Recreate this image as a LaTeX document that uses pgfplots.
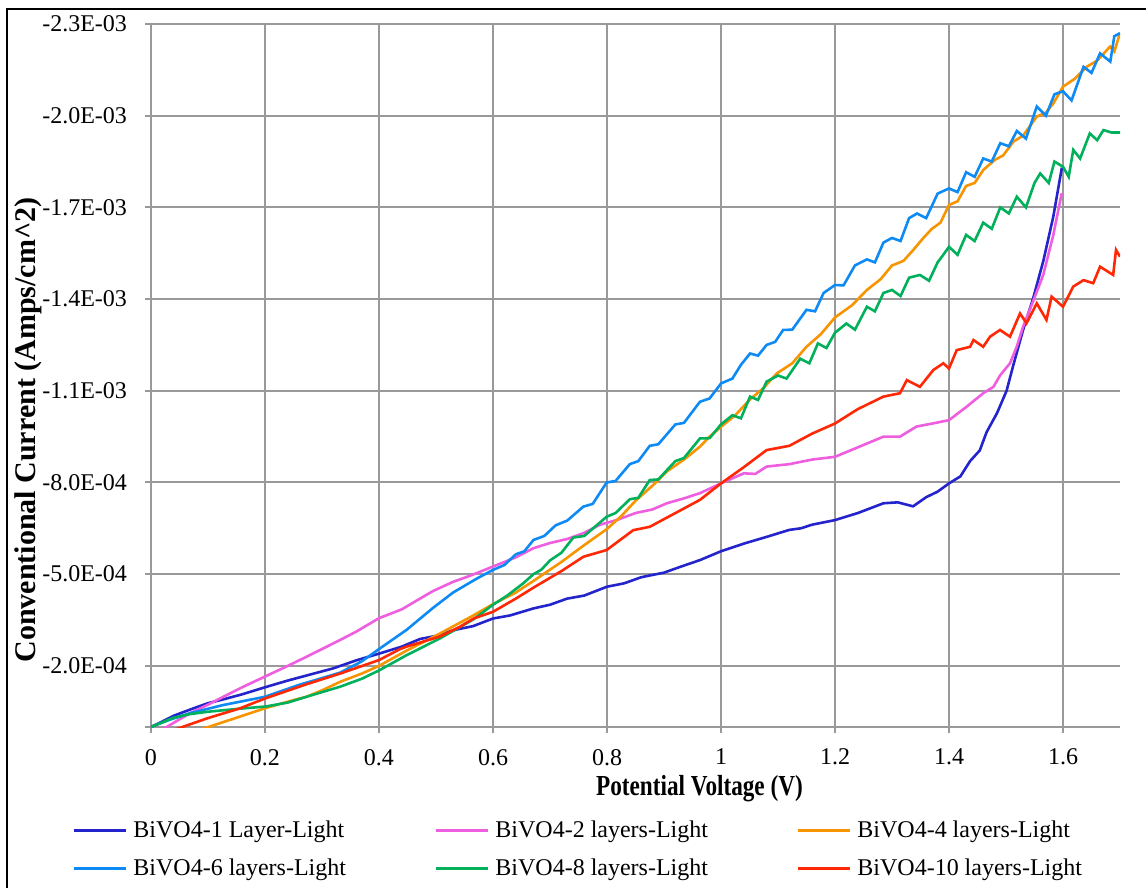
\documentclass[border=0pt]{standalone}
\usepackage{fontspec}
\setmainfont{Liberation Serif}
\usepackage{graphicx}
\usepackage{pgfplots}
\pgfplotsset{compat=1.18}
\definecolor{c1}{RGB}{36,36,204}
\definecolor{c2}{RGB}{238,94,222}
\definecolor{c4}{RGB}{247,148,0}
\definecolor{c6}{RGB}{14,138,245}
\definecolor{c8}{RGB}{0,176,90}
\definecolor{c10}{RGB}{255,40,5}
\definecolor{gridgray}{RGB}{153,153,153}
\begin{document}
\begin{tikzpicture}
\useasboundingbox (-75.5pt,-80.5pt) rectangle (497.5pt,363.5pt);
\draw[line width=1pt] (-72pt,-90pt) -- (-72pt,359pt) -- (510pt,359pt);
\begin{axis}[
  at={(0pt,0pt)}, anchor=south west,
  scale only axis, width=484.5pt, height=351.5pt,
  xmin=0, xmax=1.7, ymin=-2.3, ymax=0, y dir=reverse,
  xtick={0,0.2,0.4,0.6,0.8,1,1.2,1.4,1.6},
  xticklabels={0,0.2,0.4,0.6,0.8,1,1.2,1.4,1.6},
  ytick={-2.3,-2.0,-1.7,-1.4,-1.1,-0.8,-0.5,-0.2,0},
  yticklabels={-2.3E-03,-2.0E-03,-1.7E-03,-1.4E-03,-1.1E-03,-8.0E-04,-5.0E-04,-2.0E-04,{}},
  grid=major, major grid style={gridgray, line width=1pt},
  axis line style={draw=none},
  tick align=outside, tick pos=left, major tick length=3pt, tick style={gridgray, line width=1pt},
  ticklabel style={font=\fontsize{12}{14}\selectfont},
  yticklabel style={xshift=-5.5pt},
  xticklabel style={yshift=-4.5pt},
  xlabel={\scalebox{0.8}[1]{\bfseries\fontsize{14.5}{17}\selectfont Potential Voltage (V)}},
  xlabel style={at={(axis description cs:0.566,-0.0875)}, anchor=center},
  ylabel={\bfseries\fontsize{15}{18}\selectfont Conventional Current (Amps/cm\^{}2)},
  ylabel style={at={(axis description cs:-0.1270,0.4225)}, anchor=center},
  legend columns=3,
  legend cell align=left,
  legend image code/.code={\draw[#1,line width=1.5pt] (0pt,0pt) -- (26pt,0pt);},
  legend style={at={(-0.0815,-0.1745)}, anchor=west, draw=none, fill=none,
    inner sep=0pt, row sep=9pt, column sep=0pt,
    font=\fontsize{12}{14}\selectfont, nodes={inner sep=0pt}},
  every axis plot/.append style={line width=1.3pt},
]
% BiVO4-1 Layer-Light
\addplot[c1] coordinates {(0,0) (0.02,-0.018) (0.04,-0.037) (0.07,-0.058) (0.10,-0.078) (0.13,-0.092) (0.16,-0.107) (0.20,-0.130) (0.24,-0.152) (0.28,-0.172) (0.32,-0.192) (0.36,-0.218) (0.40,-0.240) (0.44,-0.263) (0.472,-0.288) (0.50,-0.298) (0.531,-0.317) (0.565,-0.330) (0.60,-0.355) (0.63,-0.365) (0.671,-0.388) (0.70,-0.400) (0.73,-0.420) (0.76,-0.430) (0.80,-0.459) (0.83,-0.470) (0.86,-0.490) (0.90,-0.505) (0.93,-0.525) (0.963,-0.546) (1.00,-0.575) (1.04,-0.600) (1.08,-0.622) (1.12,-0.645) (1.14,-0.650) (1.16,-0.662) (1.20,-0.677) (1.24,-0.700) (1.285,-0.732) (1.31,-0.735) (1.337,-0.722) (1.36,-0.752) (1.38,-0.770) (1.40,-0.797) (1.42,-0.820) (1.437,-0.870) (1.454,-0.905) (1.466,-0.965) (1.484,-1.026) (1.501,-1.100) (1.513,-1.185) (1.53,-1.299) (1.548,-1.405) (1.5655,-1.525) (1.583,-1.670) (1.598,-1.830)};
\addlegendentry{\makebox[153.5pt][l]{\hspace{3pt}BiVO4-1 Layer-Light}}
% BiVO4-2 layers-Light
\addplot[c2] coordinates {(0,0.025) (0.0275,0) (0.068,-0.045) (0.10,-0.073) (0.127,-0.099) (0.16,-0.130) (0.20,-0.165) (0.24,-0.200) (0.273,-0.230) (0.30,-0.255) (0.332,-0.285) (0.36,-0.312) (0.40,-0.356) (0.44,-0.385) (0.47,-0.418) (0.495,-0.445) (0.53,-0.475) (0.56,-0.495) (0.60,-0.525) (0.64,-0.555) (0.671,-0.585) (0.70,-0.602) (0.73,-0.615) (0.7585,-0.634) (0.788,-0.662) (0.817,-0.677) (0.85,-0.700) (0.88,-0.712) (0.905,-0.732) (0.935,-0.748) (0.963,-0.765) (1.00,-0.797) (1.04,-0.830) (1.06,-0.828) (1.08,-0.852) (1.12,-0.860) (1.16,-0.875) (1.20,-0.884) (1.24,-0.915) (1.285,-0.950) (1.314,-0.950) (1.343,-0.983) (1.3725,-0.9935) (1.40,-1.004) (1.431,-1.048) (1.46,-1.092) (1.478,-1.113) (1.4895,-1.150) (1.507,-1.190) (1.519,-1.245) (1.530,-1.310) (1.548,-1.395) (1.5655,-1.480) (1.583,-1.610) (1.5977,-1.746)};
\addlegendentry{\makebox[153.5pt][l]{\hspace{3pt}BiVO4-2 layers-Light}}
% BiVO4-4 layers-Light
\addplot[c4] coordinates {(0,0.06) (0.1006,0) (0.156,-0.034) (0.201,-0.062) (0.25,-0.088) (0.273,-0.099) (0.30,-0.120) (0.332,-0.148) (0.37,-0.175) (0.40,-0.200) (0.4485,-0.250) (0.507,-0.306) (0.5655,-0.365) (0.60,-0.402) (0.64,-0.440) (0.671,-0.478) (0.72,-0.540) (0.76,-0.595) (0.80,-0.648) (0.825,-0.690) (0.85,-0.740) (0.88,-0.790) (0.905,-0.836) (0.935,-0.875) (0.963,-0.917) (0.98,-0.950) (1.00,-0.982) (1.025,-1.020) (1.05,-1.070) (1.075,-1.110) (1.098,-1.157) (1.125,-1.190) (1.15,-1.244) (1.175,-1.285) (1.20,-1.340) (1.23,-1.380) (1.256,-1.430) (1.28,-1.465) (1.30,-1.510) (1.32,-1.525) (1.337,-1.560) (1.355,-1.600) (1.37,-1.630) (1.385,-1.650) (1.40,-1.708) (1.415,-1.720) (1.43,-1.770) (1.445,-1.780) (1.46,-1.822) (1.48,-1.855) (1.495,-1.870) (1.513,-1.915) (1.53,-1.935) (1.554,-1.997) (1.57,-2.010) (1.583,-2.040) (1.60,-2.095) (1.62,-2.120) (1.6415,-2.160) (1.66,-2.180) (1.6825,-2.226) (1.69,-2.210) (1.70,-2.270)};
\addlegendentry{\hspace{3pt}BiVO4-4 layers-Light}
% BiVO4-6 layers-Light
\addplot[c6] coordinates {(0,0) (0.03,-0.022) (0.068,-0.045) (0.127,-0.072) (0.20,-0.099) (0.26,-0.138) (0.30,-0.160) (0.332,-0.178) (0.37,-0.215) (0.40,-0.255) (0.4485,-0.318) (0.495,-0.390) (0.53,-0.440) (0.571,-0.485) (0.60,-0.514) (0.62,-0.530) (0.64,-0.565) (0.655,-0.575) (0.671,-0.612) (0.69,-0.625) (0.71,-0.660) (0.73,-0.675) (0.7585,-0.721) (0.775,-0.730) (0.7994,-0.800) (0.815,-0.805) (0.84,-0.860) (0.855,-0.870) (0.875,-0.920) (0.89,-0.925) (0.92,-0.990) (0.935,-0.995) (0.963,-1.064) (0.98,-1.075) (1.00,-1.124) (1.02,-1.140) (1.035,-1.185) (1.051,-1.222) (1.065,-1.215) (1.08,-1.250) (1.095,-1.260) (1.109,-1.299) (1.125,-1.300) (1.15,-1.365) (1.165,-1.360) (1.18,-1.420) (1.20,-1.446) (1.215,-1.445) (1.235,-1.510) (1.256,-1.530) (1.27,-1.520) (1.285,-1.585) (1.30,-1.600) (1.315,-1.590) (1.33,-1.665) (1.344,-1.680) (1.36,-1.665) (1.38,-1.745) (1.40,-1.762) (1.415,-1.750) (1.43,-1.815) (1.445,-1.800) (1.46,-1.860) (1.475,-1.850) (1.49,-1.910) (1.505,-1.900) (1.519,-1.950) (1.535,-1.925) (1.554,-2.030) (1.57,-2.000) (1.585,-2.070) (1.60,-2.080) (1.615,-2.050) (1.636,-2.160) (1.65,-2.140) (1.665,-2.204) (1.683,-2.177) (1.69,-2.260) (1.70,-2.270)};
\addlegendentry{\makebox[153.5pt][l]{\hspace{3pt}BiVO4-6 layers-Light}}
% BiVO4-8 layers-Light
\addplot[c8] coordinates {(0,0) (0.039,-0.030) (0.068,-0.042) (0.10,-0.050) (0.156,-0.060) (0.201,-0.067) (0.24,-0.080) (0.273,-0.099) (0.332,-0.132) (0.37,-0.158) (0.40,-0.185) (0.4485,-0.235) (0.507,-0.290) (0.5655,-0.352) (0.60,-0.400) (0.625,-0.430) (0.653,-0.470) (0.671,-0.500) (0.685,-0.515) (0.70,-0.545) (0.72,-0.570) (0.741,-0.620) (0.76,-0.625) (0.7994,-0.688) (0.815,-0.700) (0.84,-0.745) (0.855,-0.750) (0.875,-0.808) (0.89,-0.810) (0.92,-0.870) (0.935,-0.880) (0.963,-0.944) (0.98,-0.945) (1.00,-0.990) (1.02,-1.020) (1.035,-1.010) (1.051,-1.081) (1.065,-1.070) (1.08,-1.130) (1.10,-1.150) (1.115,-1.140) (1.139,-1.205) (1.155,-1.190) (1.17,-1.255) (1.185,-1.240) (1.20,-1.290) (1.22,-1.320) (1.235,-1.300) (1.256,-1.375) (1.27,-1.360) (1.285,-1.420) (1.30,-1.430) (1.315,-1.410) (1.33,-1.470) (1.349,-1.479) (1.365,-1.460) (1.38,-1.520) (1.39,-1.545) (1.40,-1.571) (1.415,-1.545) (1.43,-1.610) (1.445,-1.590) (1.46,-1.650) (1.475,-1.630) (1.49,-1.700) (1.505,-1.680) (1.519,-1.735) (1.535,-1.700) (1.55,-1.780) (1.56,-1.811) (1.575,-1.780) (1.585,-1.850) (1.60,-1.833) (1.61,-1.800) (1.618,-1.888) (1.63,-1.860) (1.647,-1.942) (1.66,-1.920) (1.671,-1.953) (1.685,-1.945) (1.70,-1.945)};
\addlegendentry{\makebox[153.5pt][l]{\hspace{3pt}BiVO4-8 layers-Light}}
% BiVO4-10 layers-Light
\addplot[c10] coordinates {(0,0.036) (0.055,0) (0.098,-0.028) (0.156,-0.061) (0.201,-0.094) (0.273,-0.140) (0.332,-0.175) (0.40,-0.219) (0.437,-0.255) (0.4485,-0.263) (0.507,-0.296) (0.542,-0.328) (0.566,-0.355) (0.60,-0.377) (0.64,-0.420) (0.671,-0.456) (0.72,-0.510) (0.7585,-0.557) (0.7994,-0.579) (0.846,-0.644) (0.875,-0.655) (0.92,-0.700) (0.963,-0.743) (1.00,-0.797) (1.04,-0.850) (1.08,-0.906) (1.12,-0.920) (1.16,-0.960) (1.20,-0.993) (1.24,-1.040) (1.285,-1.081) (1.314,-1.092) (1.326,-1.135) (1.349,-1.113) (1.3725,-1.168) (1.39,-1.190) (1.40,-1.173) (1.4135,-1.233) (1.437,-1.244) (1.443,-1.266) (1.46,-1.244) (1.472,-1.277) (1.4895,-1.299) (1.507,-1.277) (1.5246,-1.353) (1.536,-1.321) (1.554,-1.386) (1.571,-1.332) (1.58,-1.408) (1.60,-1.375) (1.618,-1.441) (1.636,-1.462) (1.653,-1.452) (1.665,-1.506) (1.688,-1.479) (1.693,-1.561) (1.70,-1.539)};
\addlegendentry{\hspace{3pt}BiVO4-10 layers-Light}
\end{axis}
\end{tikzpicture}
\end{document}
